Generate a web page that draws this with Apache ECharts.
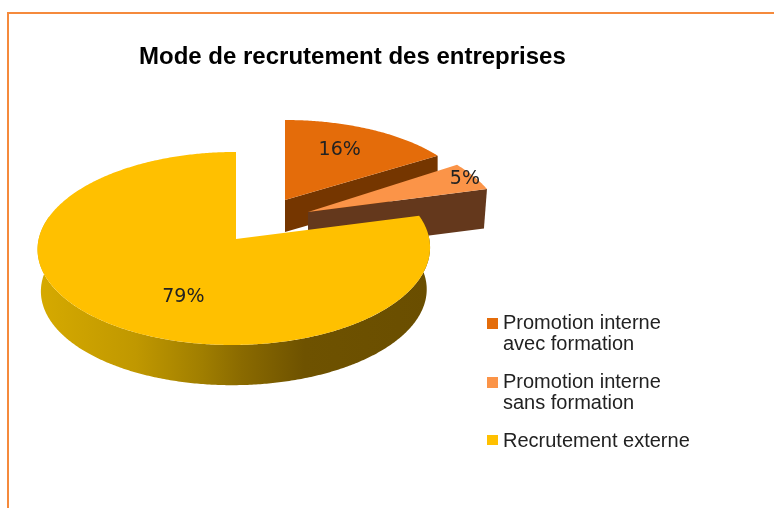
<!DOCTYPE html>
<html><head><meta charset="utf-8">
<style>html,body{margin:0;padding:0;background:#fff}#c{width:774px;height:508px}</style>
<script src="https://cdn.jsdelivr.net/npm/echarts@6/dist/echarts.min.js"></script>
</head><body><div id="c"></div>
<script>
const titleText = 'Mode de recrutement des entreprises';
const categories = ['Promotion interne\navec formation', 'Promotion interne\nsans formation', 'Recrutement externe'];
const percents = [16, 5, 79];

const colors = ['#E46C0A', '#FB9448', '#FFC000'];
const sideColors = ['#753600', '#64381C', null];
// Projective view of each exploded slice
const views = [
  {cx:285, cy:200, A:188, B:86, k:0.075, sh:0, depth:32, s:1.0,  lx:2.4,  ly:-6.6},
  {cx:308, cy:212, A:192.6, B:96, k:0.17, sh:0, depth:39, s:0.983, lx:55, ly:-10.6},
  {cx:236, cy:239, A:195.3, B:95.6, k:0.098, sh:4, depth:42, s:0.983, lx:25.6, ly:11}
];
const total = percents.reduce((a, b) => a + b, 0);
function proj(v, th, r, bottom) {
  const u = Math.sin(th) * r, w = Math.cos(th) * r;
  const s = bottom ? v.s : 1, dy = bottom ? v.depth : 0;
  const d = 1 + v.k * w;
  return [v.cx + v.A * s * u / d - v.sh * (1 - w) / 2, v.cy + dy - v.B * s * w / d];
}
function arc(v, a0, a1, bottom) {
  const n = Math.max(2, Math.ceil(Math.abs(a1 - a0) / 0.01)), pts = [];
  for (let i = 0; i <= n; i++) pts.push(proj(v, a0 + (a1 - a0) * i / n, 1, bottom));
  return pts;
}
function renderSlice(idx) {
  return function (params, api) {
    const val = api.value(0);
    let before = 0;
    for (let i = 0; i < idx; i++) before += percents[i];
    const a0 = before / total * 2 * Math.PI, a1 = (before + val) / total * 2 * Math.PI;
    const v = views[idx], children = [];
    const apex = [v.cx, v.cy], apexB = [v.cx, v.cy + v.depth];
    if (sideColors[idx]) {
      children.push({type:'polygon', shape:{points:[apex, proj(v,a1,1,false), proj(v,a1,1,true), apexB]},
        style:{fill:sideColors[idx]}});
    } else {
      const lim0 = Math.max(a0, 76.2*Math.PI/180), lim1 = Math.min(a1, 284*Math.PI/180);
      const top = arc(v, lim0, lim1, false), bot = arc(v, lim0, lim1, true).reverse();
      children.push({type:'polygon', shape:{points:top.concat(bot)},
        style:{fill:new echarts.graphic.LinearGradient(0,0,1,0,[
          {offset:0, color:'#D6AA00'},{offset:0.25, color:'#C09800'},{offset:0.42, color:'#A07E00'},
          {offset:0.52, color:'#8A6A00'},{offset:0.68, color:'#6E5200'},{offset:1, color:'#6A4E00'}])}});
    }
    children.push({type:'polygon', shape:{points:[apex].concat(arc(v,a0,a1,false))}, style:{fill:colors[idx]}});
    const mid = (a0 + a1) / 2, p = proj(v, mid, 0.6, false);
    children.push({type:'text', z2:10, style:{x:p[0]+v.lx, y:p[1]+v.ly, text:val+'%', fill:'#222',
      font:'19px "DejaVu Sans"', align:'center', verticalAlign:'middle'}});
    return {type:'group', children};
  };
}
const legendText = {fontFamily:'"Liberation Sans"', fontSize:20, lineHeight:21, color:'#222'};
const chart = echarts.init(document.getElementById('c'), null, {renderer:'canvas'});
chart.setOption({
  animation:false,
  backgroundColor:'#fff',
  title:{text:titleText, left:139, top:45, padding:0,
    textStyle:{fontFamily:'"Liberation Sans"', fontWeight:'bold', fontSize:24, color:'#000'}},
  legend:[
    {data:categories.slice(0,2), left:487, top:313, orient:'vertical', padding:0, itemWidth:11, itemHeight:42, itemGap:17,
     icon:'path://M0,0L0,0ZM0,5L11,5L11,16L0,16ZM0,42L0,42Z', selectedMode:false, textStyle:legendText},
    {data:categories.slice(2), left:487, top:431, orient:'vertical', padding:0, itemWidth:11, itemHeight:13, selectedMode:false,
     icon:'path://M0,0L11,0L11,10L0,10ZM0,13L0,13Z', textStyle:legendText}
  ],
  graphic:[{type:'polyline', silent:true, shape:{points:[[8,508],[8,13],[774,13]]},
    style:{stroke:'#F58A3C', lineWidth:2, fill:null}}],
  series:categories.map((name,i)=>({
    type:'custom', name, coordinateSystem:'none', silent:true,
    itemStyle:{color:colors[i]}, renderItem:renderSlice(i), data:[[percents[i]]], z:2+i
  }))
});
</script></body></html>
